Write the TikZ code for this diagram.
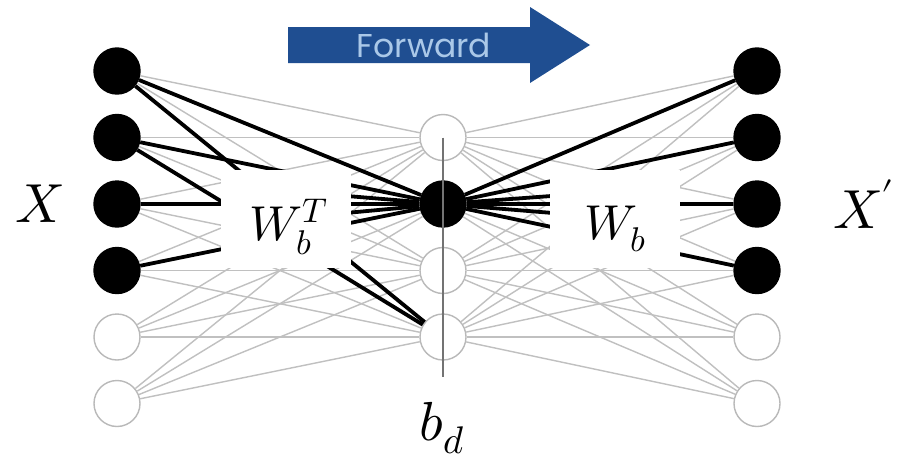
\documentclass[tikz,border=0pt]{standalone}
\usepackage{fontspec}
\usepackage{unicode-math}
\setmathfont{Latin Modern Math}
\newfontfamily\fwdfont{Poppins}
\definecolor{arrowblue}{RGB}{31,78,145}
\definecolor{fwdtext}{RGB}{170,200,232}
\definecolor{wire}{RGB}{192,192,192}
\definecolor{ring}{RGB}{185,185,185}
\begin{document}
\begin{tikzpicture}[x=1pt,y=-1pt,
  neuron/.style={circle,minimum size=46pt,inner sep=0pt,line width=1.4pt},
  onneuron/.style={neuron,fill=black,draw=black},
  offneuron/.style={neuron,fill=white,draw=ring},
  graywire/.style={draw=wire,line width=1.4pt},
  boldwire/.style={draw=black,line width=3.8pt},
  wbox/.style={fill=white,draw=none,minimum width=130pt,minimum height=98pt,inner sep=0pt},
  biglabel/.style={font=\fontsize{55}{60}\selectfont,inner sep=0pt},
  wlabel/.style={font=\fontsize{49}{54}\selectfont,inner sep=0pt}]
\useasboundingbox (0,0) rectangle (910,463);
\fill[white] (0,0) rectangle (910,463);

% Forward arrow
\fill[arrowblue] (288,27) -- (530,27) -- (530,7) -- (590,45) -- (530,83) -- (530,63) -- (288,63) -- cycle;
\node[text=fwdtext,font=\fwdfont\fontsize{33}{34}\selectfont,inner sep=0pt] (fwd) at (424,45) {Forward};

% neurons
\foreach \i/\y in {1/71,2/137.5,3/204,4/270.5}{
  \node[onneuron] (L\i) at (117,\y) {};
  \node[onneuron] (R\i) at (757,\y) {};
}
\foreach \i/\y in {5/337,6/403.5}{
  \node[offneuron] (L\i) at (117,\y) {};
  \node[offneuron] (R\i) at (757,\y) {};
}
\node[offneuron] (M1) at (443,137.5) {};
\node[onneuron]  (M2) at (443,204) {};
\node[offneuron] (M3) at (443,270.5) {};
\node[offneuron] (M4) at (443,337) {};

% gray full connections
\foreach \i in {1,...,6}{
  \foreach \j in {1,...,4}{
    \draw[graywire] (L\i) -- (M\j);
    \draw[graywire] (M\j) -- (R\i);
  }
}

% bold connections
\foreach \i in {1,2,3,4}{
  \draw[boldwire] (L\i) -- (M2);
  \draw[boldwire] (M2) -- (R\i);
}
\draw[boldwire] (L1) -- (M4);
\draw[boldwire] (L2) -- (M4);
\coordinate (sl1) at (335,195);
\coordinate (sl2) at (335,214);
\coordinate (sr1) at (565,195);
\coordinate (sr2) at (565,214);
\draw[boldwire] (sl1) -- (M2);
\draw[boldwire] (sl2) -- (M2);
\draw[boldwire] (M2) -- (sr1);
\draw[boldwire] (M2) -- (sr2);

% weight boxes
\node[wbox] (WT) at (286,219) {};
\node[wbox] (W) at (615,219) {};
\node[wlabel] (WTl) at (289,227) {$W_b^T$};
\node[wlabel] (Wl) at (615,229) {$W_b$};

% bottleneck line
\coordinate (vb) at (443,377);
\draw[draw=black!55,line width=1.3pt] (M1.center) -- (vb);

% labels
\node[biglabel] (X) at (40,204) {$X$};
\node[biglabel] (Xp) at (864,204) {$X'$};
\node[biglabel] (bd) at (442,428) {$b_d$};
\end{tikzpicture}
\end{document}
